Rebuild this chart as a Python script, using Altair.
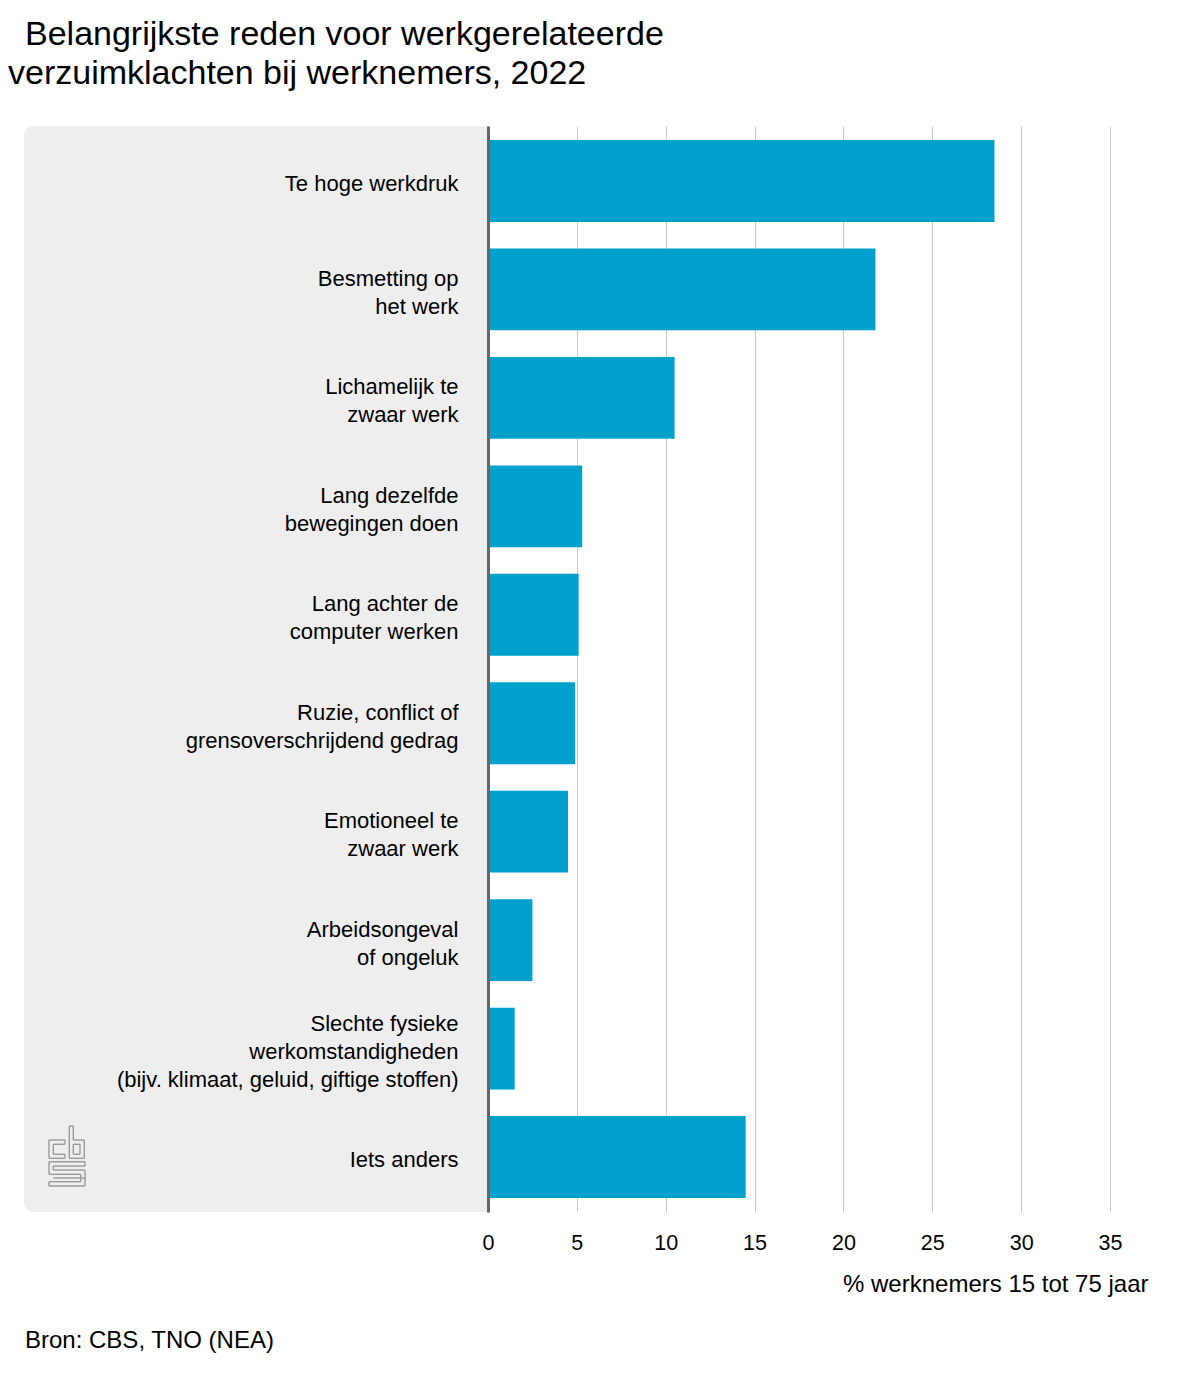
import altair as alt
import pandas as pd

categories = [
    "Te hoge werkdruk",
    "Besmetting op|het werk",
    "Lichamelijk te|zwaar werk",
    "Lang dezelfde|bewegingen doen",
    "Lang achter de|computer werken",
    "Ruzie, conflict of|grensoverschrijdend gedrag",
    "Emotioneel te|zwaar werk",
    "Arbeidsongeval|of ongeluk",
    "Slechte fysieke|werkomstandigheden|(bijv. klimaat, geluid, giftige stoffen)",
    "Iets anders",
]
values = [28.5, 21.8, 10.5, 5.3, 5.1, 4.9, 4.5, 2.5, 1.5, 14.5]
x_ticks = [0, 5, 10, 15, 20, 25, 30, 35]
title_line1 = "Belangrijkste reden voor werkgerelateerde"
title_line2 = "verzuimklachten bij werknemers, 2022"
x_title = "% werknemers 15 tot 75 jaar"
source = "Bron: CBS, TNO (NEA)"

FONT = "Liberation Sans"
W, H = 622, 1086
OX, OY = 488, 126  # plot origin on the page

df = pd.DataFrame({"cat": categories, "val": values})
one = pd.DataFrame({"a": [0]})

panel = alt.Chart(one).mark_rect(
    color="#eeeeee", cornerRadiusTopLeft=10, cornerRadiusBottomLeft=10
).encode(
    x=alt.value(-464), x2=alt.value(0), y=alt.value(0), y2=alt.value(H)
)

label_offset = {
    "condition": [
        {"test": "length(split(datum.value, '|')) == 3", "value": -24.5},
        {"test": "length(split(datum.value, '|')) == 2", "value": -10.5},
    ],
    "value": 3,
}

bars = alt.Chart(df).mark_bar(color="#00a1cd").encode(
    y=alt.Y(
        "cat:N",
        sort=categories,
        scale=alt.Scale(paddingInner=0.2454, paddingOuter=0.13),
        axis=alt.Axis(
            title=None,
            labelExpr="split(datum.label, '|')",
            labelFont=FONT,
            labelFontSize=22,
            labelColor="#000000",
            labelPadding=30,
            labelLineHeight=28,
            labelLimit=600,
            labelOffset=label_offset,
            ticks=False,
            domainColor="#666666",
            domainWidth=3,
            zindex=1,
        ),
    ),
    x=alt.X(
        "val:Q",
        scale=alt.Scale(domain=[0, 35], nice=False),
        axis=alt.Axis(
            values=x_ticks,
            grid=True,
            gridColor="#c8c8c8",
            gridWidth=1,
            domain=False,
            ticks=False,
            labelFont=FONT,
            labelFontSize=21.5,
            labelColor="#000000",
            labelPadding=20,
            labelFlush=False,
            title=x_title,
            titleFont=FONT,
            titleFontSize=24,
            titleFontWeight="normal",
            titleColor="#000000",
            titleX=660,
            titleY=72,
            titleAlign="right",
            titleBaseline="middle",
        ),
    ),
)


def txt(s, x, y, size):
    return alt.Chart(pd.DataFrame({"t": [s]})).mark_text(
        align="left", baseline="middle", font=FONT, fontSize=size, color="#000000"
    ).encode(x=alt.value(x - OX), y=alt.value(y - OY), text="t:N")


# CBS logo outline (decoration), as polylines in page pixels
logo_paths = [
    # c
    [(65, 1140), (49, 1140), (49, 1158.3), (65, 1158.3), (65, 1154.3),
     (53.3, 1154.3), (53.3, 1144.3), (65, 1144.3), (65, 1140)],
    # b
    [(69.3, 1126), (73.3, 1126), (73.3, 1140), (84.3, 1140), (84.3, 1158.3),
     (69.3, 1158.3), (69.3, 1126)],
    [(73.3, 1144.3), (80, 1144.3), (80, 1154.3), (73.3, 1154.3), (73.3, 1144.3)],
    # s
    [(49, 1161.7), (85, 1161.7), (85, 1166), (53.3, 1166), (53.3, 1170),
     (85, 1170), (85, 1186), (49, 1186), (49, 1181.7), (80.7, 1181.7),
     (80.7, 1174.3), (49, 1174.3), (49, 1161.7)],
    [(53.3, 1178), (85, 1178)],
]

logo_layers = []
for path in logo_paths:
    for (x1, y1), (x2, y2) in zip(path[:-1], path[1:]):
        logo_layers.append(
            alt.Chart(one).mark_rule(color="#9a9a9a", strokeWidth=1.4).encode(
                x=alt.value(x1 - OX), x2=alt.value(x2 - OX),
                y=alt.value(y1 - OY), y2=alt.value(y2 - OY),
            )
        )

chart = alt.layer(
    panel,
    *logo_layers,
    bars,
    txt(title_line1, 25, 35, 34),
    txt(title_line2, 8, 74, 34),
    txt(source, 25, 1341, 24),
).properties(
    width=W,
    height=H,
    autosize=alt.AutoSizeParams(type="none"),
    padding={"left": 480, "top": 118, "right": 82, "bottom": 180},
).configure_view(stroke=None)

chart.save("out.html", embed_options={"renderer": "svg", "actions": False})
